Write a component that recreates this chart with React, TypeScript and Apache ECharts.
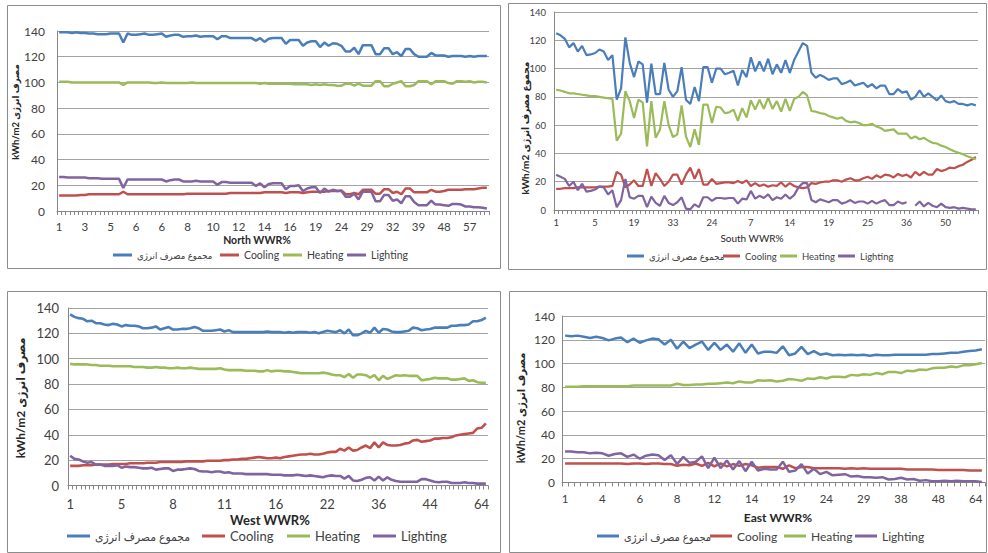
import React, { useEffect, useRef } from 'react';
import * as echarts from 'echarts';

const seriesNames = ['مجموع مصرف انرژی', 'Cooling', 'Heating', 'Lighting'];
const seriesColors = ['#4a7ebb', '#c0504d', '#9bbb59', '#8064a2'];

// ---------- North ----------
const northTickLabels = ['1', '3', '5', '6', '6', '8', '10', '12', '14', '16', '19', '24', '29', '32', '39', '48', '57'];
const northLabelStep = 6;
const northPointCount = 101;
const northTotal = [
  139, 139, 139, 138.5, 139, 138.5, 138.5, 138, 138, 137.5,
  137.5, 137.5, 138, 138, 138, 131, 138, 137, 137, 137.5,
  138, 137, 137, 137.5, 138, 135.5, 136.5, 137, 137, 135.5,
  136, 136, 136.5, 135.5, 136, 136, 136, 133.5, 136, 136,
  134.5, 134.5, 134.5, 134.5, 134.5, 134.5, 132.5, 134.5, 131.5, 134,
  134.5, 134.5, 134.5, 130, 133, 133, 133, 128.5, 131, 132,
  132, 127.5, 131, 128.5, 130.5, 130, 128.5, 124, 124, 127,
  122, 129, 129, 129, 122, 122, 126.5, 126.5, 122, 123.5,
  120.5, 126, 126, 122, 120, 120, 120, 123, 121, 121,
  121, 120, 120.5, 120.5, 120.5, 120, 120.5, 120, 120.5, 120.5,
  120.5,
];
const northCooling = [
  12, 12, 12, 12, 12, 12.5, 12.5, 13, 13, 13,
  13, 13, 13, 13, 13, 15, 13, 13, 13, 13,
  13, 13, 13, 13, 13, 13, 13, 13, 13, 13,
  13.5, 13.5, 13.5, 13.5, 13.5, 13.5, 13.5, 13.5, 13.5, 13.5,
  14, 14, 14, 14, 14, 14, 14, 14, 14.5, 14.5,
  14.5, 14.5, 14.5, 14, 14.5, 14.5, 14.5, 14, 14.5, 15,
  15, 15, 15, 15.5, 15.5, 15.5, 16, 13, 13, 14,
  13, 16.5, 16.5, 16.5, 13.5, 13.5, 17, 17, 14, 15,
  13, 17.5, 17.5, 14.5, 14.5, 14.5, 14.5, 16.5, 15, 15,
  15.5, 16.5, 16.5, 16.5, 16.5, 17, 17, 17, 17.5, 18,
  18,
];
const northHeating = [
  100.5, 100.5, 100.5, 100, 100, 100, 100, 100, 100, 100,
  100, 100, 100, 100, 100, 98, 100, 100, 100, 100,
  100, 100, 99.5, 99.5, 100, 99.5, 99.5, 99.5, 99.5, 99.5,
  99.5, 100, 99.5, 99.5, 99.5, 99.5, 99.5, 99.5, 99.5, 99.5,
  99.5, 99.5, 99.5, 99.5, 99.5, 99.5, 99.5, 99, 99.5, 99,
  99, 99, 99, 99, 99, 98.5, 98.5, 98.5, 98.5, 98,
  98.5, 98, 98.5, 98, 98, 97.5, 97.5, 99, 99, 97.5,
  99, 97.5, 97.5, 97.5, 101, 101, 97, 97, 99, 100,
  101, 97, 97, 98, 101, 101, 101, 98.5, 101, 101,
  101, 99.5, 99, 101, 101, 100.5, 101, 100, 100.5, 100.5,
  100,
];
const northLighting = [
  26.5, 26.5, 26, 26, 26, 26, 26, 25.5, 25.5, 25.5,
  25, 25, 25, 25, 25, 18, 24.5, 24.5, 24.5, 24.5,
  24.5, 24.5, 24.5, 24.5, 24.5, 23, 24, 24.5, 24.5, 23,
  23, 23, 23.5, 23, 23, 23, 23, 20.5, 22.5, 22.5,
  22, 22, 22, 22, 22, 22, 19.5, 21.5, 18.5, 21,
  21.5, 21.5, 21.5, 17, 19.5, 19.5, 20, 15.5, 17.5, 18.5,
  18.5, 14, 17.5, 15, 16.5, 15.5, 15.5, 11, 11, 13.5,
  9, 15, 15, 15, 7.5, 7.5, 12.5, 12.5, 8, 9,
  6, 11.5, 11.5, 7, 4.5, 4.5, 4.5, 8, 5, 5,
  4.5, 4, 5.5, 5.5, 5, 3.5, 3.5, 3, 3, 2.5,
  2,
];

// ---------- South ----------
const southTickLabels = ['1', '5', '19', '33', '24', '7', '14', '19', '25', '36', '50'];
const southLabelStep = 9;
const southPointCount = 98;
const southTotal = [
  125, 123.5, 121, 115, 118, 112, 116, 109.5, 110, 111,
  113.5, 112, 106, 109.5, 78, 86, 122, 104, 94, 105,
  103, 76, 103.5, 82, 82, 104, 85, 80, 84, 101,
  78, 75, 87, 77, 101, 101, 90, 100, 100, 96,
  97, 98.5, 88, 99, 94, 108, 98, 105, 98, 107,
  96, 103, 97, 106, 97, 106, 112, 118, 116, 97,
  93.5, 95.5, 94, 92, 93, 93, 89, 90, 91.5, 88,
  89, 90, 87, 89, 86, 88, 88, 82, 82, 85.5,
  83, 84, 78, 80, 84.5, 80, 82.5, 80, 77.5, 81,
  77, 76, 77, 75, 75, 74, 75, 74,
];
const southCooling = [
  15, 15, 15.5, 15.5, 15.5, 16, 16, 16, 16, 16,
  16.5, 16.5, 16.5, 17, 27, 25, 16, 18, 21, 17,
  17, 29, 17, 26, 22, 17, 20, 25, 25, 18,
  25, 30, 22, 29, 18, 18, 22, 18.5, 19, 19.5,
  19.5, 19, 20.5, 19, 21, 17, 19, 17, 18, 16.5,
  17.5, 17, 19.5, 16.5, 19, 17, 16, 15.5, 16, 19,
  18.5, 19.5, 20, 20, 21, 21, 20, 21.5, 22.5, 21,
  21, 22.5, 23.5, 22, 24.5, 23, 25, 24.5, 23, 25.5,
  24, 25, 23, 27, 24.5, 27, 25, 25, 29, 27.5,
  28.5, 30, 29.5, 31, 32, 34, 35.5, 37.5,
];
const southHeating = [
  85, 84.5, 83.5, 82.5, 82.5, 82, 81.5, 81, 80.5, 80.5,
  80, 79.5, 79, 78.5, 49, 54, 84, 77, 65, 78,
  76, 45, 77, 51, 57, 77, 60, 51.5, 53.5, 74,
  52, 44.5, 57, 46, 74.5, 74.5, 61.5, 73, 72.5, 68.5,
  69, 71, 63, 72, 65.5, 77.5, 71, 78, 71.5, 79.5,
  71.5, 77, 69.5, 78.5, 70, 78.5, 80, 83.5, 81, 70,
  69.5, 68.5, 68, 66.5, 65.5, 64.5, 65.5, 63, 62, 62.5,
  61.5, 60, 60, 61, 59, 58, 56, 56.5, 57, 54,
  54, 54, 50.5, 52, 50, 51, 49, 47.5, 47, 45.5,
  44.5, 43, 41.5, 40.5, 39.5, 38, 37, 36,
];
const southLighting = [
  25, 23.5, 22, 17, 20, 14, 18.5, 13, 13.5, 14.5,
  16.5, 16, 11, 14, 2, 7, 22, 9, 8, 10,
  10, 2, 9.5, 5, 3, 10, 5, 3.5, 5.5, 9,
  1, 0.5, 4, 2, 9, 9, 6.5, 8.5, 8.5, 8,
  8.5, 8.5, 4.5, 8, 7.5, 13.5, 8, 10, 8.5, 11,
  7, 9, 8, 11, 8, 10.5, 16, 19, 19, 7,
  5.5, 7.5, 6.5, 5.5, 7, 7, 4.5, 5.5, 7, 5,
  6, 6, 4.5, 6.5, 4.5, 6, 7, 3.5, 3.5, 6,
  4.5, 5.5, null, 3, 6, 2.5, 5, 3, 2, 4.5,
  2, 1.5, 2, 1, 1.5, 1, 0.5, 0.5,
];

// ---------- West ----------
const westTickLabels = ['1', '5', '8', '11', '16', '22', '36', '44', '64'];
const westLabelStep = 12;
const westPointCount = 98;
const westTotal = [
  135, 133, 132, 131.5, 129.5, 130, 128, 128, 127, 126.5,
  127.5, 127, 125.5, 126.5, 126, 126, 125.5, 124, 124, 124.5,
  125.5, 123, 124, 125, 123, 123, 123.5, 123.5, 124, 125,
  124, 122, 122, 122, 122.5, 123, 121.5, 122.5, 121, 121,
  121, 121, 121, 121, 121, 121, 121.5, 121, 121, 121,
  120.5, 121, 120.5, 121, 121, 121, 120.5, 121, 120, 121,
  122, 121.5, 121, 122.5, 120, 123, 118.5, 118.5, 120, 122,
  120.5, 124.5, 120.5, 123.5, 123, 121.5, 121, 121, 121.5, 122,
  124.5, 124, 122.5, 123, 123.5, 124.5, 124.5, 124.5, 124.5, 126,
  126, 126.5, 126.5, 127, 129.5, 129.5, 130.5, 132.5,
];
const westCooling = [
  15.5, 15.5, 15.5, 16, 16, 16, 16.5, 16.5, 16.5, 16.5,
  17, 17, 17, 17, 17.5, 17.5, 17.5, 17.5, 18, 18,
  18, 18.5, 18.5, 18.5, 18.5, 18.5, 18.5, 19, 19, 19,
  19, 19, 19.5, 19.5, 19.5, 19.5, 20, 20, 20.5, 20.5,
  21, 21, 21.5, 22, 22.5, 22, 21.5, 21.5, 22, 21.5,
  22.5, 23, 23.5, 24, 24.5, 24.5, 25, 24.5, 24.5, 25,
  26, 26.5, 26.5, 29, 27.5, 30, 27.5, 28, 30, 31.5,
  29.5, 34, 30, 34, 32, 31.5, 31.5, 32, 33, 33.5,
  35.5, 36, 34.5, 35, 35.5, 37, 37, 37.5, 37.5, 38,
  39.5, 40, 40.5, 41, 41.5, 45, 45.5, 49,
];
const westHeating = [
  96, 95.5, 95.5, 95.5, 95.5, 95, 95, 94.5, 94.5, 94.5,
  94, 94, 94, 94, 94, 93.5, 93.5, 93.5, 93, 93,
  93.5, 93, 93, 92.5, 92.5, 93, 92.5, 92.5, 93, 92.5,
  92, 92, 92, 92, 92, 92.5, 91.5, 91, 91, 91,
  91, 90.5, 90.5, 90.5, 90, 90, 91, 90, 90.5, 90.5,
  90, 90, 89.5, 89, 88.5, 88.5, 88.5, 88.5, 88.5, 89,
  88.5, 87.5, 87, 87, 85.5, 88, 85, 87.5, 87.5, 87,
  85, 87, 83, 86.5, 84, 85.5, 87, 86.5, 87, 86.5,
  86.5, 86.5, 83, 83.5, 84, 85, 84.5, 84.5, 84.5, 83.5,
  83.5, 84, 84.5, 82.5, 83, 81.5, 81, 81,
];
const westLighting = [
  23.5, 21, 20.5, 19, 18, 18.5, 16.5, 16.5, 15.5, 15.5,
  15.5, 16, 14, 15, 14.5, 14.5, 14, 13.5, 13.5, 14,
  12.5, 13, 13.5, 13.5, 11.5, 12.5, 12.5, 13, 13.5, 13,
  11.5, 11, 11, 10.5, 11, 11, 10, 10.5, 9.5, 9.5,
  9.5, 9, 9, 9, 9, 9, 9, 8.5, 8.5, 8.5,
  8, 8, 8, 8.5, 8, 7.5, 8, 7.5, 7, 6.5,
  7.5, 8, 7.5, 7.5, 5.5, 7.5, 4, 3.5, 4.5, 6,
  6.5, 4, 7, 4, 6.5, 4.5, 3.5, 3, 3, 3,
  3, 3, 5, 5, 4, 3, 2.5, 3, 3, 2,
  2, 2, 2.5, 2, 2, 1.5, 1.5, 1.5,
];

// ---------- East ----------
const eastTickLabels = ['1', '4', '6', '8', '12', '14', '19', '24', '29', '38', '48', '64'];
const eastLabelStep = 6;
const eastPointCount = 68;
const eastTotal = [
  123.5, 123, 123.5, 122.5, 121.5, 122.5, 121.5, 119.5, 121, 122,
  118, 121, 117.5, 119.5, 121, 120.5, 116, 120, 112.5, 118.5,
  113, 116, 118.5, 111.5, 117.5, 111.5, 116, 110, 117, 109,
  116, 108.5, 110, 110, 109, 114.5, 107, 108.5, 114, 108,
  110.5, 107.5, 108.5, 107, 107.5, 107, 107.5, 107, 107.5, 106.5,
  107.5, 107, 107, 107.5, 107.5, 107.5, 107.5, 107.5, 107.5, 108,
  108, 108.5, 109, 109, 110, 110.5, 111, 112,
];
const eastCooling = [
  16, 16, 16, 16, 16, 16, 16, 16, 16, 16,
  15.5, 16, 16, 15.5, 16, 16, 15.5, 15.5, 14, 15,
  14.5, 16, 14, 16.5, 13.5, 16, 13.5, 15.5, 14, 15.5,
  14.5, 12.5, 13, 13, 13, 11.5, 14.5, 12, 13, 13,
  12, 12, 12, 12, 12, 11.5, 12, 11.5, 12, 11.5,
  11.5, 11.5, 11.5, 11.5, 11.5, 11, 11, 11, 11, 11,
  10.5, 10.5, 10.5, 10.5, 10.5, 10, 10, 10,
];
const eastHeating = [
  80.5, 80.5, 80.5, 81, 81, 81, 81, 81, 81, 81,
  81, 81.5, 81.5, 81.5, 81.5, 81.5, 81.5, 81.5, 83, 82,
  82, 82.5, 82.5, 83, 83, 83.5, 84, 83.5, 85, 84,
  84, 86, 85.5, 86, 85, 85.5, 87, 86.5, 85.5, 87.5,
  87, 88.5, 87.5, 89, 89, 88.5, 90.5, 90, 91, 90.5,
  92, 91, 93, 93, 92, 94, 93.5, 95, 94.5, 96,
  96.5, 96.5, 97.5, 97, 98.5, 98.5, 99.5, 100.5,
];
const eastLighting = [
  26, 26, 25.5, 25.5, 24.5, 25, 24.5, 22.5, 24, 24.5,
  21.5, 23.5, 20, 22.5, 23.5, 23, 19, 23, 15.5, 21.5,
  16.5, 17.5, 22, 12, 21, 12, 18.5, 11, 18, 9.5,
  17.5, 10, 11.5, 11, 11, 17.5, 9, 10, 15.5, 7.5,
  11.5, 7, 9, 6, 6.5, 7, 5, 5.5, 4.5, 4.5,
  4, 4.5, 2.5, 3, 4, 2.5, 3, 1.5, 2, 1,
  1, 1.5, 1, 1.5, 1, 1, 1, 0.5,
];

const FONT = 'Lato, "DejaVu Sans Condensed", "DejaVu Sans", sans-serif';

function makeCategories(labels: string[], step: number, count: number): string[] {
  const out: string[] = [];
  for (let i = 0; i < count; i++) {
    out.push(i % step === 0 && labels[i / step] !== undefined ? labels[i / step] : '');
  }
  return out;
}

const panels = [
  {
    labels: northTickLabels, step: northLabelStep, count: northPointCount,
    values: [northTotal, northCooling, northHeating, northLighting],
    grid: { left: 57, top: 31, width: 432, height: 180 },
    yFont: 12, yMargin: 12, xFont: 11.5, xMargin: 9, lineWidth: 2.5,
    xName: 'North WWR%', xNamePos: [257, 240], xNameFont: 10.5, xNameWeight: 'bold',
    yName: 'kWh/m2 مصرف انرژی', yNamePos: [15, 112], yNameFont: 9.5,
    legendY: 255, legendFont: 10.5, legendFirstFont: 9.5, legendIcon: 19, legendX: [113, 220, 283, 347],
    border: [7, 5, 493, 263],
  },
  {
    labels: southTickLabels, step: southLabelStep, count: southPointCount,
    values: [southTotal, southCooling, southHeating, southLighting],
    grid: { left: 554, top: 12, width: 424, height: 198 },
    yFont: 9.5, yMargin: 8, xFont: 9.5, xMargin: 7, lineWidth: 2.2,
    xName: 'South WWR%', xNamePos: [752, 238], xNameFont: 10, xNameWeight: 'normal',
    yName: 'kWh/m2 مجموع مصرف انرژی', yNamePos: [525, 128], yNameFont: 10,
    legendY: 256, legendFont: 9.5, legendFirstFont: 9.5, legendIcon: 17, legendX: [627, 723, 780, 838],
    border: [508, 3, 478, 266],
  },
  {
    labels: westTickLabels, step: westLabelStep, count: westPointCount,
    values: [westTotal, westCooling, westHeating, westLighting],
    grid: { left: 68, top: 308, width: 420, height: 177.5 },
    yFont: 13, yMargin: 9, xFont: 13, xMargin: 12, lineWidth: 2.6,
    xName: 'West WWR%', xNamePos: [270, 520], xNameFont: 13, xNameWeight: 'bold',
    yName: 'kWh/m2 مصرف انرژی', yNamePos: [20, 398], yNameFont: 12,
    legendY: 536, legendFont: 13, legendFirstFont: 12, legendIcon: 23, legendX: [67, 202, 287, 373],
    border: [7, 291, 493, 261],
  },
  {
    labels: eastTickLabels, step: eastLabelStep, count: eastPointCount,
    values: [eastTotal, eastCooling, eastHeating, eastLighting],
    grid: { left: 562, top: 316, width: 423, height: 166.5 },
    yFont: 12, yMargin: 7, xFont: 11.5, xMargin: 10, lineWidth: 2.5,
    xName: 'East WWR%', xNamePos: [778, 517], xNameFont: 12, xNameWeight: 'bold',
    yName: 'kWh/m2 مصرف انرژی', yNamePos: [520, 408], yNameFont: 11,
    legendY: 536, legendFont: 12, legendFirstFont: 11, legendIcon: 22, legendX: [597, 710, 784, 855],
    border: [509, 291, 477, 261],
  },
];

function buildOption(): any {
  const grid = panels.map((p) => ({ ...p.grid, containLabel: false }));
  const xAxis = panels.map((p, i) => ({
    type: 'category',
    gridIndex: i,
    data: makeCategories(p.labels, p.step, p.count),
    boundaryGap: true,
    axisLine: { show: true, lineStyle: { color: '#868686', width: 1 } },
    axisTick: { show: true, interval: 0, length: 4, lineStyle: { color: '#868686' } },
    axisLabel: { interval: p.step - 1, fontSize: p.xFont, color: '#404040', fontFamily: FONT, margin: p.xMargin },
    splitLine: { show: false },
  }));
  const yAxis = panels.map((p, i) => ({
    type: 'value',
    gridIndex: i,
    min: 0,
    max: 140,
    interval: 20,
    axisLine: { show: true, lineStyle: { color: '#868686', width: 1 } },
    axisTick: { show: false },
    axisLabel: { fontSize: p.yFont, color: '#404040', fontFamily: FONT, margin: p.yMargin },
    splitLine: { show: true, lineStyle: { color: '#a3a3a3', width: 1 } },
  }));
  const series: any[] = [];
  panels.forEach((p, i) => {
    p.values.forEach((vals, s) => {
      series.push({
        type: 'line',
        name: seriesNames[s],
        xAxisIndex: i,
        yAxisIndex: i,
        data: vals,
        symbol: 'none',
        showSymbol: false,
        silent: true,
        z: 2 + s,
        lineStyle: { color: seriesColors[s], width: p.lineWidth },
        itemStyle: { color: seriesColors[s] },
      });
    });
  });
  const legend: any[] = [];
  panels.forEach((p) => {
    seriesNames.forEach((name, s) => {
      const fs = s === 0 ? p.legendFirstFont : p.legendFont;
      legend.push({
        data: [name],
        left: p.legendX[s],
        top: p.legendY - (p.legendFont + 4) / 2,
        orient: 'horizontal',
        icon: 'rect',
        itemWidth: p.legendIcon,
        itemHeight: 3,
        padding: 0,
        itemGap: 0,
        selectedMode: false,
        textStyle: { fontSize: fs, color: '#404040', fontFamily: FONT, lineHeight: p.legendFont + 4 },
      });
    });
  });
  const graphic: any[] = [];
  panels.forEach((p) => {
    graphic.push({
      type: 'rect',
      silent: true,
      shape: { x: p.border[0] + 0.5, y: p.border[1] + 0.5, width: p.border[2], height: p.border[3] },
      style: { fill: 'none', stroke: '#8c8c8c', lineWidth: 1 },
    });
    graphic.push({
      type: 'text',
      x: p.xNamePos[0],
      y: p.xNamePos[1],
      silent: true,
      style: {
        text: p.xName, fontSize: p.xNameFont, fontWeight: p.xNameWeight, fontFamily: FONT, fill: '#262626',
        align: 'center', verticalAlign: 'middle', textAlign: 'center', textVerticalAlign: 'middle',
      },
    });
    graphic.push({
      type: 'text',
      x: p.yNamePos[0],
      y: p.yNamePos[1],
      rotation: Math.PI / 2,
      silent: true,
      style: {
        text: p.yName, fontSize: p.yNameFont, fontWeight: 'bold', fontFamily: FONT, fill: '#262626',
        align: 'center', verticalAlign: 'middle', textAlign: 'center', textVerticalAlign: 'middle',
      },
    });
  });
  return {
    animation: false,
    backgroundColor: '#ffffff',
    textStyle: { fontFamily: FONT },
    grid,
    xAxis,
    yAxis,
    legend,
    series,
    graphic,
  };
}

export default function App() {
  const ref = useRef<HTMLDivElement>(null);
  useEffect(() => {
    if (!ref.current) return;
    const chart = echarts.init(ref.current, null, { renderer: 'svg', width: 988, height: 553 });
    chart.setOption(buildOption());
    return () => {
      chart.dispose();
    };
  }, []);
  return (
    <div
      ref={ref}
      style={{ position: 'absolute', left: 0, top: 0, width: 988, height: 553, background: '#ffffff' }}
    />
  );
}
